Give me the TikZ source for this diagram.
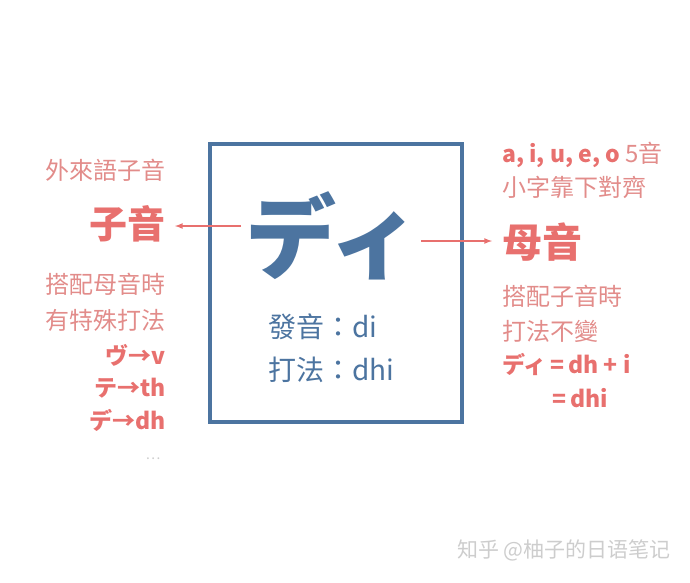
\documentclass[tikz,border=0pt]{standalone}
\usepackage{fontspec}
\setmainfont{Noto Sans CJK TC}
\usetikzlibrary{positioning}
\definecolor{boxblue}{RGB}{76,116,160}
\definecolor{salmon}{RGB}{232,112,110}
\definecolor{softpink}{RGB}{226,140,138}
\definecolor{mark}{RGB}{205,205,205}
\begin{document}
\begin{tikzpicture}[x=1pt, y=-1pt,
    note/.style={text=softpink, font=\fontsize{24}{28}\selectfont, inner sep=0pt},
    rule/.style={text=salmon, font=\bfseries\fontsize{23}{27}\selectfont, inner sep=0pt},
    head/.style={text=salmon, font=\bfseries\fontsize{38}{42}\selectfont, inner sep=0pt},
    inbox/.style={text=boxblue, font=\fontsize{28}{32}\selectfont, inner sep=0pt, anchor=west},
    link/.style={->, >=latex, draw=salmon, line width=1.6pt}]

    \useasboundingbox (0,0) rectangle (690,582);

    % centre box
    \node [draw=boxblue, line width=4pt, minimum width=252pt, minimum height=278pt] (frame) at (336,283) {};
    \node [text=boxblue, font=\bfseries\fontsize{91}{96}\selectfont, inner sep=0pt] (di) at (333,236) {ディ};
    \node [inbox] (say) at (268,327) {發音：di};
    \node [inbox] (type) at (268,370) {打法：dhi};

    % left side
    \node [note, anchor=east] (loan) at (166,170) {外來語子音};
    \node [head, anchor=east] (cons) at (166,224) {子音};
    \node [note, anchor=east] (l1) at (166,284) {搭配母音時};
    \node [note, anchor=east] (l2) at (166,320) {有特殊打法};
    \node [rule, anchor=east] (vu) at (166,355) {ヴ→v};
    \node [rule, anchor=east] (te) at (166,388) {テ→th};
    \node [rule, anchor=east] (de) at (166,420) {デ→dh};
    \node [text=mark, font=\fontsize{14}{16}\selectfont, inner sep=0pt] (more) at (153,459) {…};

    % right side
    \node [note, anchor=west] (five) at (502,155) {\textcolor{salmon}{\bfseries\fontsize{23}{27}\selectfont a, i, u, e, o} 5音};
    \node [note, anchor=west] (small) at (502,187) {小字靠下對齊};
    \node [head, anchor=west, font=\bfseries\fontsize{40}{44}\selectfont] (vow) at (502,242) {母音};
    \node [note, anchor=west] (r1) at (502,296) {搭配子音時};
    \node [note, anchor=west] (r2) at (502,331) {打法不變};
    \node [rule, anchor=west] (sum) at (502,364) {ディ\,=\,dh + i};
    \node [rule, anchor=west] (res) at (552,398) {=\,dhi};

    % arrows
    \coordinate (lstart) at (241,226);
    \coordinate (rstart) at (421,241);
    \draw [link] (lstart) -- ([xshift=9pt]cons.east |- lstart);
    \draw [link] (rstart) -- ([xshift=-10pt]vow.west |- rstart);

    \node [text=mark, font=\fontsize{21}{25}\selectfont, inner sep=0pt, anchor=east] (wm) at (671,550) {知乎 @柚子的日语笔记};

\end{tikzpicture}
\end{document}
